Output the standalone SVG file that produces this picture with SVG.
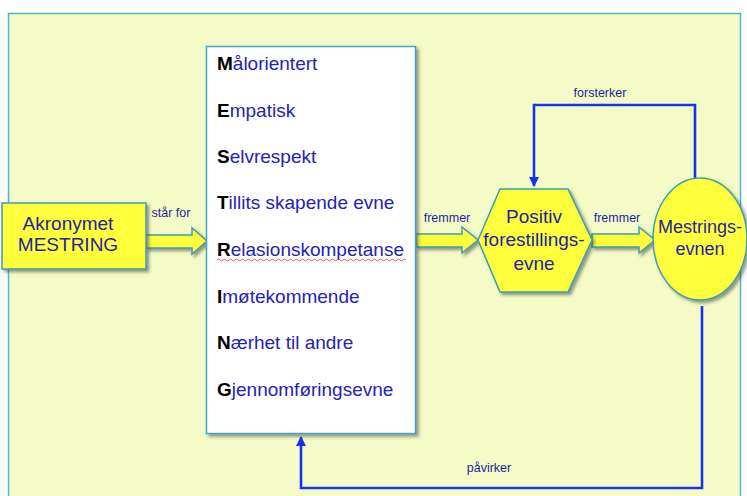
<svg xmlns="http://www.w3.org/2000/svg" width="747" height="496" viewBox="0 0 747 496">
<defs>
<filter id="sh" x="-10%" y="-10%" width="130%" height="130%"><feDropShadow dx="2.5" dy="2.5" stdDeviation="1.5" flood-color="#444" flood-opacity="0.55"/></filter>
<marker id="ah" viewBox="0 0 10 10" refX="9" refY="5" markerWidth="4" markerHeight="4" orient="auto"><path d="M0,0 L10,5 L0,10 z" fill="#1634f0"/></marker>
<style>
.lbl{font-family:"Liberation Sans",Arial,sans-serif;fill:#1f1fa4}
.big{font-size:19px}
.sm{font-size:12.5px}
.item{font-family:"Liberation Sans",Arial,sans-serif;font-size:19px;fill:#2323b4}
.ini{fill:#000;font-weight:bold}
.yel{fill:#ffff3a;stroke:#3b9fb4;stroke-width:1.5}
.con{fill:none;stroke:#1634f0;stroke-width:2.6}
</style>
</defs>
<rect x="0" y="0" width="747" height="496" fill="#ffffff"/>
<rect x="8.5" y="13.5" width="732" height="490" fill="#f5fbc6" stroke="#46b6dc" stroke-width="1.5"/>

<g id="connectors">
<path class="con" d="M695,178 L695,105 L534,105 L534,186" marker-end="url(#ah)"/>
<path class="con" d="M702,306 L702,488 L301,488 L301,437" marker-end="url(#ah)"/>
<text class="lbl sm" x="600" y="97" text-anchor="middle">forsterker</text>
<text class="lbl sm" x="489" y="472" text-anchor="middle">påvirker</text>
<g id="arrow1">
<path class="yel" filter="url(#sh)" d="M146,235 L192,235 L192,228 L207,241 L192,254 L192,248 L146,248 z"/>
<text class="lbl sm" x="171" y="217" text-anchor="middle">står for</text>
</g>
<g id="arrow2">
<path class="yel" filter="url(#sh)" d="M416,234 L462,234 L462,227 L478,240 L462,253 L462,247 L416,247 z"/>
<text class="lbl sm" x="447" y="222" text-anchor="middle">fremmer</text>
</g>
<g id="arrow3">
<path class="yel" filter="url(#sh)" d="M592,234 L639,234 L639,227 L655,240 L639,253 L639,247 L592,247 z"/>
<text class="lbl sm" x="617" y="222" text-anchor="middle">fremmer</text>
</g>
</g>

<g id="akronym">
<rect class="yel" filter="url(#sh)" x="2" y="203" width="144" height="66"/>
<text class="lbl big" x="68" y="230" text-anchor="middle">Akronymet</text>
<text class="lbl big" x="68" y="251" text-anchor="middle">MESTRING</text>
</g>

<g id="liste">
<rect x="206.5" y="46.5" width="209" height="387" fill="#ffffff" stroke="#3aa7cf" stroke-width="1.5" filter="url(#sh)"/>
<text class="item" x="217" y="70"><tspan class="ini">M</tspan>ålorientert</text>
<text class="item" x="217" y="117"><tspan class="ini">E</tspan>mpatisk</text>
<text class="item" x="217" y="163"><tspan class="ini">S</tspan>elvrespekt</text>
<text class="item" x="217" y="209"><tspan class="ini">T</tspan>illits skapende evne</text>
<text class="item" x="217" y="256"><tspan class="ini">R</tspan>elasionskompetanse</text>
<path d="M217,260 q1.5,-2 3,0 t3,0 t3,0 t3,0 t3,0 t3,0 t3,0 t3,0 t3,0 t3,0 t3,0 t3,0 t3,0 t3,0 t3,0 t3,0 t3,0 t3,0 t3,0 t3,0 t3,0 t3,0 t3,0 t3,0 t3,0 t3,0 t3,0 t3,0 t3,0 t3,0 t3,0 t3,0 t3,0 t3,0 t3,0 t3,0 t3,0 t3,0 t3,0 t3,0 t3,0 t3,0 t3,0 t3,0 t3,0 t3,0 t3,0 t3,0 t3,0 t3,0 t3,0 t3,0 t3,0 t3,0 t3,0 t3,0 t3,0 t3,0 t3,0 t3,0 t3,0 t3,0 t3,0" fill="none" stroke="#e03030" stroke-width="0.8"/>
<text class="item" x="217" y="303"><tspan class="ini">I</tspan>møtekommende</text>
<text class="item" x="217" y="349"><tspan class="ini">N</tspan>ærhet til andre</text>
<text class="item" x="217" y="396"><tspan class="ini">G</tspan>jennomføringsevne</text>
</g>

<g id="forestilling">
<path class="yel" filter="url(#sh)" d="M478,240 L500,189 L568,189 L592,240 L568,292 L500,292 z"/>
<text class="lbl big" x="534" y="223" text-anchor="middle">Positiv</text>
<text class="lbl big" x="534" y="246" text-anchor="middle">forestillings-</text>
<text class="lbl big" x="534" y="270" text-anchor="middle">evne</text>
</g>

<g id="mestringsevnen">
<ellipse class="yel" filter="url(#sh)" cx="700" cy="239" rx="47" ry="61"/>
<text class="lbl" font-size="18" x="700" y="233" text-anchor="middle">Mestrings-</text>
<text class="lbl" font-size="18" x="700" y="255" text-anchor="middle">evnen</text>
</g>
</svg>
